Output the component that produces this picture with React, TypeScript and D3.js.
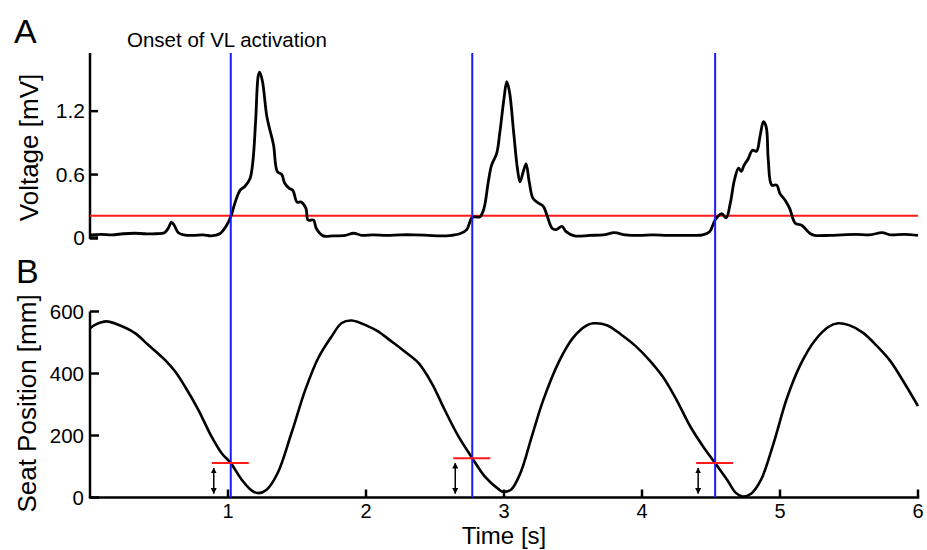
import React from "react";
import * as d3 from "d3";

// EMG of vastus lateralis (panel A)
const emgTime = [
  0, 0.08, 0.16, 0.24, 0.32, 0.4, 0.48, 0.54, 0.57, 0.59, 0.61, 0.64, 0.68, 0.75, 0.82, 0.88, 0.94, 0.99,
  1.02, 1.05, 1.087, 1.123, 1.159, 1.18, 1.2, 1.22, 1.23, 1.25, 1.28, 1.3, 1.33, 1.357, 1.39, 1.41, 1.444,
  1.47, 1.5, 1.53, 1.565, 1.58, 1.62, 1.64, 1.69, 1.76, 1.85, 1.91, 1.97, 2.05, 2.15, 2.25, 2.35, 2.45,
  2.54, 2.62, 2.68, 2.73, 2.766, 2.79, 2.826, 2.855, 2.886, 2.91, 2.947, 2.97, 3.0, 3.02, 3.04, 3.07,
  3.097, 3.116, 3.14, 3.16, 3.183, 3.21, 3.25, 3.285, 3.31, 3.35, 3.38, 3.42, 3.45, 3.51, 3.62, 3.72,
  3.8, 3.88, 3.98, 4.08, 4.18, 4.28, 4.38, 4.44, 4.49, 4.53, 4.577, 4.61, 4.64, 4.67, 4.7, 4.72, 4.74,
  4.77, 4.8, 4.83, 4.855, 4.88, 4.9, 4.915, 4.94, 4.976, 5.0, 5.036, 5.07, 5.11, 5.157, 5.22, 5.25,
  5.36, 5.45, 5.55, 5.65, 5.74, 5.8, 5.9, 6.0,
];
const emgVolt = [
  0.03, 0.035, 0.03, 0.04, 0.045, 0.04, 0.04, 0.05, 0.1, 0.15, 0.12, 0.05, 0.03, 0.025, 0.03, 0.02, 0.04, 0.12,
  0.2, 0.33, 0.45, 0.49, 0.56, 0.72, 1.1, 1.54, 1.57, 1.48, 1.16, 1.04, 0.88, 0.63, 0.6, 0.52, 0.47,
  0.45, 0.34, 0.34, 0.28, 0.17, 0.17, 0.09, 0.02, 0.02, 0.025, 0.045, 0.025, 0.03, 0.025, 0.03, 0.03, 0.025,
  0.02, 0.025, 0.04, 0.08, 0.19, 0.2, 0.2, 0.28, 0.53, 0.69, 0.8, 1.0, 1.32, 1.48, 1.38, 1.0,
  0.66, 0.53, 0.63, 0.7, 0.53, 0.375, 0.33, 0.3, 0.22, 0.09, 0.08, 0.11, 0.06, 0.02, 0.025, 0.03,
  0.05, 0.03, 0.025, 0.03, 0.025, 0.025, 0.025, 0.03, 0.06, 0.17, 0.23, 0.19, 0.33, 0.55, 0.66, 0.63, 0.69,
  0.75, 0.83, 0.82, 0.96, 1.1, 1.05, 0.74, 0.5, 0.5, 0.42, 0.36, 0.28, 0.14, 0.12, 0.04, 0.025,
  0.025, 0.03, 0.035, 0.03, 0.05, 0.03, 0.035, 0.025,
];

// seat position (panel B)
const seatTime = [
  0, 0.036, 0.12, 0.205, 0.326, 0.42, 0.543, 0.616, 0.688, 0.785, 0.88, 0.954, 1.02, 1.1, 1.17, 1.22, 1.28,
  1.36, 1.46, 1.56, 1.654, 1.75, 1.824, 1.897, 2.017, 2.09, 2.186, 2.28, 2.38, 2.476, 2.57, 2.67, 2.77,
  2.86, 2.96, 2.99, 3.05, 3.12, 3.2, 3.285, 3.4, 3.5, 3.6, 3.65, 3.75, 3.85, 3.95, 4.05, 4.15, 4.25,
  4.35, 4.45, 4.53, 4.62, 4.68, 4.73, 4.79, 4.86, 4.95, 5.05, 5.15, 5.25, 5.35, 5.42, 5.5, 5.6, 5.7,
  5.8, 5.9, 6.0,
];
const seatPos = [
  546, 557, 568, 557, 530, 493, 444, 407, 358, 283, 197, 143, 111, 57, 23, 14, 25,
  79, 208, 347, 450, 519, 563, 571, 552, 535, 503, 471, 434, 369, 283, 197, 127,
  68, 27, 19, 25, 80, 195, 315, 440, 515, 555, 562, 555, 525, 490, 445, 390, 315,
  229, 160, 111, 55, 15, 3, 12, 55, 170, 320, 430, 505, 550, 562, 556, 532, 490,
  440, 370, 295,
];

const onsetTimes = [1.02, 2.77, 4.53];
const onsetSeat = [111, 127, 111];
const threshold = 0.21;

const voltTicks = [0, 0.6, 1.2];
const seatTicks = [0, 200, 400, 600];
const timeTicks = [1, 2, 3, 4, 5, 6];

const FONT = "'Liberation Sans', Arial, Helvetica, sans-serif";

export default function App() {
  const x = d3.scaleLinear().domain([0, 6]).range([90, 918]);
  const yV = d3.scaleLinear().domain([0, 1.75]).range([238, 53]);
  const yS = d3.scaleLinear().domain([0, 600]).range([497.5, 311.5]);

  const emgPath = d3
    .line<number>()
    .x((_, i) => x(emgTime[i]))
    .y((d) => yV(d))
    .curve(d3.curveCatmullRom.alpha(0.5))(emgVolt);

  const seatPath = d3
    .line<number>()
    .x((_, i) => x(seatTime[i]))
    .y((d) => yS(d))
    .curve(d3.curveCatmullRom.alpha(0.5))(seatPos);

  return (
    <svg
      width={927}
      height={550}
      style={{ position: "absolute", left: 0, top: 0, background: "#fff" }}
      fontFamily={FONT}
    >
      <defs>
        <marker id="ah" viewBox="0 0 10 10" refX="9" refY="5" markerWidth="4" markerHeight="4" orient="auto-start-reverse">
          <path d="M0,0 L10,5 L0,10 z" fill="#000" />
        </marker>
      </defs>

      {/* panel letters and title */}
      <text x={14} y={43} fontSize={34}>A</text>
      <text x={16} y={283} fontSize={34}>B</text>
      <text x={127} y={47} fontSize={20.5}>Onset of VL activation</text>

      {/* panel A axis */}
      <line x1={x(0)} x2={x(0)} y1={yV(1.75)} y2={yV(0) + 1.2} stroke="#000" strokeWidth={2.5} />
      {voltTicks.map((t) => (
        <g key={"v" + t}>
          <line x1={x(0)} x2={x(0) + 8} y1={yV(t)} y2={yV(t)} stroke="#000" strokeWidth={t === 0 ? 3.5 : 2.5} />
          <text x={x(0) - 5} y={yV(t) + 7} fontSize={21} textAnchor="end">{t === 0 ? "0" : t.toFixed(1)}</text>
        </g>
      ))}
      <text transform={`translate(38,${(yV(0) + yV(1.75)) / 2 + 2}) rotate(-90)`} fontSize={26} textAnchor="middle">
        Voltage [mV]
      </text>

      {/* panel B axes */}
      <line x1={x(0)} x2={x(0)} y1={yS(600)} y2={yS(0)} stroke="#000" strokeWidth={2.5} />
      <line x1={x(0) - 1.2} x2={x(6) + 1.2} y1={yS(0)} y2={yS(0)} stroke="#000" strokeWidth={2.5} />
      {seatTicks.map((t) => (
        <g key={"s" + t}>
          <line x1={x(0)} x2={x(0) + 9} y1={yS(t)} y2={yS(t)} stroke="#000" strokeWidth={2.5} />
          <text x={x(0) - 6} y={yS(t) + 7} fontSize={20.5} textAnchor="end">{t}</text>
        </g>
      ))}
      {timeTicks.map((t) => (
        <g key={"t" + t}>
          <line x1={x(t)} x2={x(t)} y1={yS(0)} y2={yS(0) - 8} stroke="#000" strokeWidth={2.5} />
          <text x={x(t)} y={yS(0) + 20} fontSize={20} textAnchor="middle">{t}</text>
        </g>
      ))}
      <text transform={`translate(36,${(yS(0) + yS(600)) / 2 - 1}) rotate(-90)`} fontSize={26} textAnchor="middle">
        Seat Position [mm]
      </text>
      <text x={(x(0) + x(6)) / 2} y={544} fontSize={24} textAnchor="middle">Time [s]</text>

      {/* threshold in panel A */}
      <line x1={x(0)} x2={x(6)} y1={yV(threshold)} y2={yV(threshold)} stroke="#ff1a1a" strokeWidth={2} />

      {/* data */}
      <path d={emgPath ?? ""} fill="none" stroke="#000" strokeWidth={2.8} strokeLinejoin="round" />
      <path d={seatPath ?? ""} fill="none" stroke="#000" strokeWidth={2.6} strokeLinejoin="round" />

      {/* onset lines and seat markers */}
      {onsetTimes.map((t, i) => (
        <g key={"o" + i}>
          <line x1={x(t)} x2={x(t)} y1={yV(1.75)} y2={yS(0)} stroke="#1a1aff" strokeWidth={2} />
          <line x1={x(t) - 19} x2={x(t) + 18} y1={yS(onsetSeat[i])} y2={yS(onsetSeat[i])} stroke="#ff1a1a" strokeWidth={2} />
          <line
            x1={x(t) - 17}
            x2={x(t) - 17}
            y1={yS(onsetSeat[i]) + 5}
            y2={yS(0) - 4}
            stroke="#000"
            strokeWidth={1.5}
            markerStart="url(#ah)"
            markerEnd="url(#ah)"
          />
        </g>
      ))}
    </svg>
  );
}
